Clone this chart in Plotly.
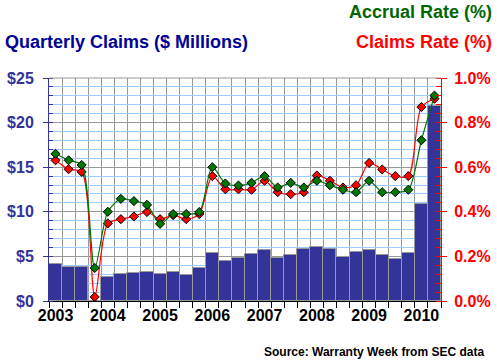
import plotly.graph_objects as go

quarters = [f"{y}Q{q}" for y in range(2003, 2011) for q in range(1, 5)][:30]
year_labels = ["2003", "2004", "2005", "2006", "2007", "2008", "2009", "2010"]

claims_musd = [4.10, 3.84, 3.84, 0.0, 2.65, 2.99, 3.10, 3.21, 2.99, 3.21,
               2.87, 3.66, 5.34, 4.44, 4.85, 5.22, 5.67, 4.78, 5.11, 5.86,
               6.01, 5.86, 4.96, 5.52, 5.67, 5.11, 4.66, 5.34, 10.93, 21.9]

accrual_rate = [0.660, 0.631, 0.610, 0.148, 0.400, 0.458, 0.448, 0.431, 0.346, 0.390,
                0.390, 0.399, 0.600, 0.527, 0.518, 0.530, 0.560, 0.509, 0.530, 0.509,
                0.539, 0.519, 0.499, 0.488, 0.539, 0.488, 0.488, 0.499, 0.721, 0.921]

claims_rate = [0.631, 0.591, 0.579, 0.018, 0.348, 0.367, 0.379, 0.399, 0.367, 0.385,
               0.367, 0.390, 0.560, 0.501, 0.501, 0.499, 0.539, 0.488, 0.479, 0.488,
               0.563, 0.539, 0.509, 0.519, 0.619, 0.590, 0.560, 0.560, 0.870, 0.907]

x = list(range(len(quarters)))
year_pos = [i for i, q in enumerate(quarters) if q.endswith("Q1")]

BLUE = "#333399"
RED = "#FF0000"
GREEN = "#007700"

fig = go.Figure()
fig.add_trace(go.Bar(
    x=x, y=claims_musd, yaxis="y", width=1.0,
    marker=dict(color=BLUE, line=dict(color="#999999", width=1)),
    hovertext=quarters, showlegend=False,
))
fig.add_trace(go.Scatter(
    x=x, y=claims_rate, yaxis="y2", mode="lines+markers",
    line=dict(color=RED, width=1.2, shape="spline", smoothing=0.8),
    marker=dict(symbol="diamond", size=7, color=RED, line=dict(color="black", width=1)),
    showlegend=False,
))
fig.add_trace(go.Scatter(
    x=x, y=accrual_rate, yaxis="y2", mode="lines+markers",
    line=dict(color=GREEN, width=1.2, shape="spline", smoothing=0.8),
    marker=dict(symbol="diamond", size=7, color=GREEN, line=dict(color="black", width=1)),
    showlegend=False,
))

tick_font = dict(family="Liberation Sans", size=16, weight="bold")
title_size = 18

fig.update_layout(
    width=497, height=363,
    margin=dict(l=49, r=56, t=78, b=62, autoexpand=False),
    paper_bgcolor="white", plot_bgcolor="white",
    font=dict(family="Liberation Sans", weight="bold"),
    bargap=0,
    xaxis=dict(
        range=[-0.5, len(x) - 0.5],
        tickmode="array", tickvals=year_pos, ticktext=year_labels,
        ticks="", showgrid=False, zeroline=False,
        tickfont=dict(color="black", **tick_font),
        showline=True, linecolor="black", linewidth=1,
        minor=dict(tickmode="linear", tick0=-0.5, dtick=1, ticks="outside",
                   ticklen=6, tickcolor="black", showgrid=True,
                   gridcolor="#999999", gridwidth=1),
    ),
    yaxis=dict(
        range=[0, 25], tickmode="linear", tick0=0, dtick=5, tickprefix="$",
        tickfont=dict(color=BLUE, **tick_font),
        ticks="outside", ticklen=5, tickcolor=BLUE, ticklabelstandoff=6,
        showline=True, linecolor=BLUE, linewidth=1,
        showgrid=True, gridcolor="#999999", gridwidth=1, zeroline=False,
        minor=dict(tickmode="linear", tick0=0, dtick=1, ticks="inside",
                   ticklen=4, tickcolor=BLUE, showgrid=True,
                   gridcolor="#99CCFF", gridwidth=1),
    ),
    yaxis2=dict(
        range=[0, 1.0], overlaying="y", side="right",
        tickmode="linear", tick0=0, dtick=0.2, tickformat=".1f", ticksuffix="%",
        tickfont=dict(color=RED, **tick_font),
        ticks="outside", ticklen=5, tickcolor=RED, ticklabelstandoff=4,
        showline=True, linecolor=RED, linewidth=1,
        showgrid=False, zeroline=False,
        minor=dict(tickmode="linear", tick0=0, dtick=0.04, ticks="inside",
                   ticklen=5, tickcolor=RED, showgrid=False),
    ),
    shapes=[dict(type="line", xref="paper", yref="paper", x0=0, x1=1, y0=1, y1=1,
                 line=dict(color="#999999", width=1))],
    annotations=[
        dict(text="Quarterly Claims ($ Millions)", xref="paper", yref="paper",
             x=(3 - 49) / 392, y=(301 - 42) / 223, xanchor="left", yanchor="middle",
             showarrow=False, font=dict(family="Liberation Sans", size=title_size, color="#000099", weight="bold")),
        dict(text="Accrual Rate (%)", xref="paper", yref="paper",
             x=(494 - 49) / 392, y=(301 - 12) / 223, xanchor="right", yanchor="middle",
             showarrow=False, font=dict(family="Liberation Sans", size=title_size, color="#006600", weight="bold")),
        dict(text="Claims Rate (%)", xref="paper", yref="paper",
             x=(494 - 49) / 392, y=(301 - 42) / 223, xanchor="right", yanchor="middle",
             showarrow=False, font=dict(family="Liberation Sans", size=title_size, color=RED, weight="bold")),
        dict(text="Source: Warranty Week from SEC data", xref="paper", yref="paper",
             x=(486 - 49) / 392, y=(301 - 351.5) / 223, xanchor="right", yanchor="middle",
             showarrow=False, font=dict(family="Liberation Sans", size=12, color="black", weight="bold")),
    ],
)

fig.write_html("out.html", config={"displayModeBar": False},
               post_script="document.body.style.margin='0';document.body.style.overflow='hidden';")
